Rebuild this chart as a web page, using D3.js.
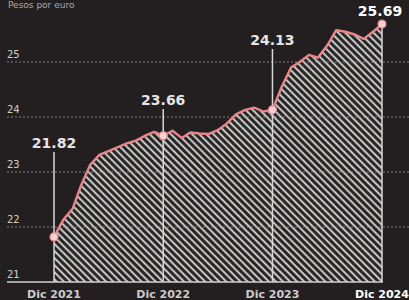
<!DOCTYPE html>
<html><head><meta charset="utf-8">
<script src="https://cdn.jsdelivr.net/npm/d3@7"></script>
<style>
html,body{margin:0;padding:0;background:#231f20;overflow:hidden}
svg{display:block}
text{font-family:"DejaVu Sans",sans-serif}
</style></head><body>
<script>
const months = ["2021-12","2022-01","2022-02","2022-03","2022-04","2022-05","2022-06","2022-07","2022-08","2022-09","2022-10","2022-11","2022-12",
"2023-01","2023-02","2023-03","2023-04","2023-05","2023-06","2023-07","2023-08","2023-09","2023-10","2023-11","2023-12",
"2024-01","2024-02","2024-03","2024-04","2024-05","2024-06","2024-07","2024-08","2024-09","2024-10","2024-11","2024-12"];
const values = [21.82,22.13,22.33,22.75,23.13,23.31,23.38,23.45,23.52,23.57,23.66,23.73,23.66,
23.75,23.62,23.72,23.70,23.69,23.76,23.88,24.05,24.13,24.17,24.10,24.13,
24.55,24.90,25.00,25.13,25.08,25.30,25.58,25.55,25.50,25.42,25.55,25.69];
const yTicks = [21,22,23,24,25];
const xTickLabels = ["Dic 2021","Dic 2022","Dic 2023","Dic 2024"];
const xTickDates = ["2021-12","2022-12","2023-12","2024-12"];
const annotValues = [21.82,23.66,24.13,25.69];
const title = "Pesos por euro";

const W=409,H=300;
const parse=d3.timeParse("%Y-%m");
const data=months.map((m,i)=>({d:parse(m),v:values[i]}));
const x=d3.scaleTime().domain([parse("2021-12"),parse("2024-12")]).range([54,382]);
const y=d3.scaleLinear().domain([21,25]).range([282,62]);

const svg=d3.select("body").append("svg").attr("width",W).attr("height",H);
const defs=svg.append("defs");
const pat=defs.append("pattern").attr("id","hatch").attr("patternUnits","userSpaceOnUse")
  .attr("width",5).attr("height",5).attr("patternTransform","rotate(-45)");
pat.append("rect").attr("width",5).attr("height",5).attr("fill","#2a2727");
pat.append("rect").attr("x",0).attr("y",0).attr("width",2).attr("height",5).attr("fill","#c4c4c4");

svg.append("text").attr("x",8).attr("y",8).attr("fill","#aaa").attr("font-size",9).text(title);

// area
const area=d3.area().x(d=>x(d.d)).y0(y(21)).y1(d=>y(d.v));
svg.append("path").datum(data).attr("d",area).attr("fill","url(#hatch)");

// gridlines
svg.append("g").selectAll("line").data(yTicks.slice(1)).join("line")
  .attr("x1",7).attr("x2",W).attr("y1",d=>y(d)).attr("y2",d=>y(d))
  .attr("stroke","#9a9a9a").attr("stroke-width",1).attr("stroke-dasharray","2,2").attr("opacity",0.8);
svg.append("g").selectAll("text").data(yTicks).join("text")
  .attr("x",7).attr("y",d=>y(d)-4).attr("fill","#cfcfcf").attr("font-size",10).text(d=>d);

// baseline
svg.append("line").attr("x1",7).attr("x2",383).attr("y1",y(21)).attr("y2",y(21))
  .attr("stroke","#d0d0d0").attr("stroke-width",1.5);

// annotation vertical lines
const ann=xTickDates.map((m,i)=>({d:parse(m),v:annotValues[i],label:xTickLabels[i]}));
const labelY=[148,105,45,16];
svg.append("g").selectAll("line").data(ann).join("line")
  .attr("x1",d=>x(d.d)).attr("x2",d=>x(d.d))
  .attr("y1",(d,i)=>i===3?y(d.v):labelY[i]+4).attr("y2",y(21))
  .attr("stroke","#d8d8d8").attr("stroke-width",1.5);

// line
const line=d3.line().x(d=>x(d.d)).y(d=>y(d.v));
svg.append("path").datum(data).attr("d",line).attr("fill","none")
  .attr("stroke","#e8868b").attr("stroke-width",2.4).attr("stroke-linejoin","round");

// dots
svg.append("g").selectAll("circle").data(ann).join("circle")
  .attr("cx",d=>x(d.d)).attr("cy",d=>y(d.v)).attr("r",4)
  .attr("fill","#f6d2d3").attr("stroke","#e8868b").attr("stroke-width",1.2);

// value labels
svg.append("g").selectAll("text").data(ann).join("text")
  .attr("x",(d,i)=>i===3?380:x(d.d)).attr("y",(d,i)=>labelY[i])
  .attr("text-anchor","middle").attr("font-size",14).attr("font-weight","bold")
  .attr("fill",(d,i)=>i===3?"#ffffff":"#e6e6e6").text(d=>d.v.toFixed(2));

// x labels
svg.append("g").selectAll("text").data(ann).join("text")
  .attr("x",d=>x(d.d)).attr("y",298).attr("text-anchor","middle")
  .attr("font-size",11).attr("font-weight",(d,i)=>i===3?"bold":"600")
  .attr("fill",(d,i)=>i===3?"#ffffff":"#cccccc").text(d=>d.label);
</script>
</body></html>
